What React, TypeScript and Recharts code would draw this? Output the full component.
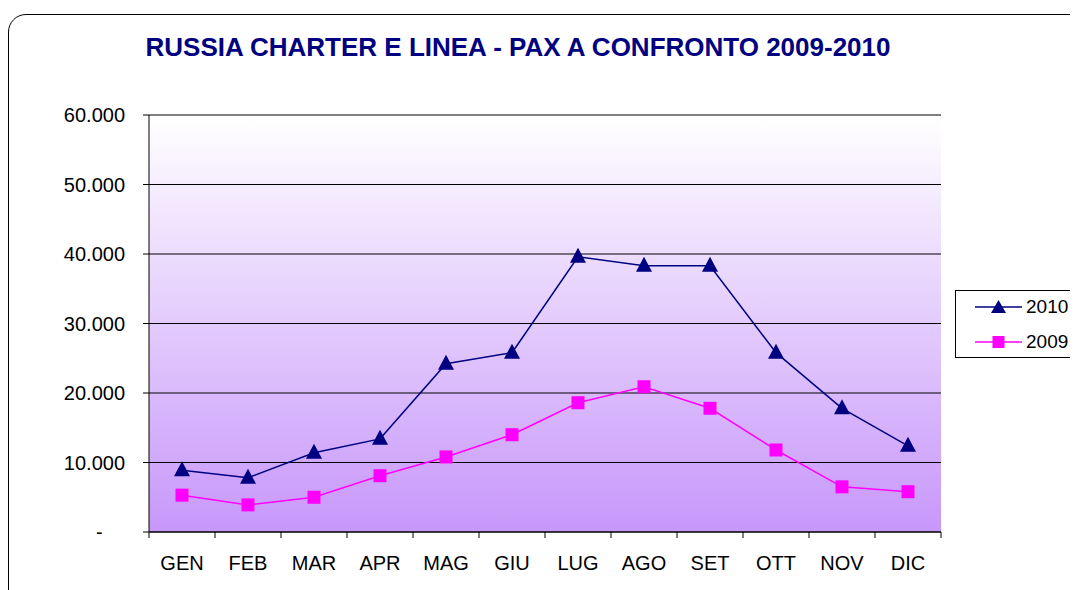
import { LineChart, Line, XAxis, YAxis, CartesianGrid } from 'recharts'

const months = ['GEN', 'FEB', 'MAR', 'APR', 'MAG', 'GIU', 'LUG', 'AGO', 'SET', 'OTT', 'NOV', 'DIC']
const pax2010 = [8900, 7800, 11400, 13400, 24200, 25800, 39600, 38300, 38300, 25800, 17800, 12400]
const pax2009 = [5300, 3900, 5000, 8100, 10800, 14000, 18600, 20900, 17800, 11800, 6500, 5800]
const yTicks = [0, 10000, 20000, 30000, 40000, 50000, 60000]

const NAVY = '#000080'
const MAGENTA = '#ff00ff'
const FONT = '"Liberation Sans", Arial, sans-serif'

const data = months.map((m, i) => ({ m, y2010: pax2010[i], y2009: pax2009[i] }))

const fmtY = (v: number) => (v === 0 ? '-\u00A0\u00A0\u00A0\u00A0' : `${v / 1000}.000`)

const Triangle = (props: any) => {
  const { cx, cy } = props
  if (cx == null || cy == null) return null
  return <path d={`M${cx},${cy - 9} L${cx + 8},${cy + 6} L${cx - 8},${cy + 6} Z`} fill={NAVY} />
}

const Square = (props: any) => {
  const { cx, cy } = props
  if (cx == null || cy == null) return null
  return <rect x={cx - 6.5} y={cy - 6.5} width={13} height={13} fill={MAGENTA} />
}

// month label centred, tick marks on band boundaries like excel
const MonthTick = (props: any) => {
  const { x, y, payload, index } = props
  const half = payload?.offset || 33
  return (
    <g>
      <line x1={x - half} x2={x - half} y1={y - 8} y2={y - 2} stroke="#000" />
      {index === months.length - 1 && (
        <line x1={x + half} x2={x + half} y1={y - 8} y2={y - 2} stroke="#000" />
      )}
      <text x={x} y={y + 30} textAnchor="middle" fontSize={20} fontFamily={FONT} fill="#000">
        {payload.value}
      </text>
    </g>
  )
}

const series = [
  { name: '2010', color: NAVY, marker: 'tri' },
  { name: '2009', color: MAGENTA, marker: 'sq' },
]

export default function App() {
  return (
    <div
      style={{
        position: 'relative',
        width: 1078,
        height: 590,
        margin: '-8px 0 0 -8px',
        overflow: 'hidden',
        background: '#fff',
        fontFamily: FONT,
      }}
    >
      {/* outer rounded frame */}
      <div
        style={{
          position: 'absolute',
          left: 8,
          top: 14,
          width: 1100,
          height: 620,
          border: '1.5px solid #000',
          borderRadius: 18,
          boxSizing: 'border-box',
        }}
      />
      <div
        style={{
          position: 'absolute',
          left: 0,
          width: 1036,
          top: 32,
          textAlign: 'center',
          fontWeight: 'bold',
          fontSize: 26,
          lineHeight: '30px',
          color: NAVY,
        }}
      >
        RUSSIA CHARTER E LINEA - PAX A CONFRONTO 2009-2010
      </div>
      <div style={{ position: 'absolute', left: 0, top: 0 }}>
        <LineChart width={1078} height={590} data={data} margin={{ top: 115, right: 137, bottom: 28, left: 0 }}>
          <defs>
            <linearGradient id="bg" x1="0" y1="0" x2="0" y2="1">
              <stop offset="0%" stopColor="#ffffff" />
              <stop offset="100%" stopColor="#c797fa" />
            </linearGradient>
          </defs>
          <CartesianGrid vertical={false} stroke="#000" fill="url(#bg)" fillOpacity={1} />
          <XAxis
            dataKey="m"
            scale="band"
            height={30}
            axisLine={{ stroke: '#000' }}
            tickLine={false}
            tick={<MonthTick />}
            interval={0}
          />
          <XAxis xAxisId="top" dataKey="m" scale="band" orientation="top" height={0} tick={false} tickLine={false} axisLine={{ stroke: '#808080' }} />
          <YAxis
            width={149}
            domain={[0, 60000]}
            ticks={yTicks}
            tickFormatter={fmtY}
            tickSize={6}
            tickMargin={18}
            axisLine={{ stroke: '#000' }}
            tickLine={{ stroke: '#000' }}
            tick={{ fill: '#000', fontSize: 20, fontFamily: FONT }}
          />
          <YAxis yAxisId="r" orientation="right" width={0} domain={[0, 60000]} tick={false} tickLine={false} axisLine={{ stroke: '#808080' }} />
          <Line
            type="linear"
            dataKey="y2010"
            name="2010"
            stroke={NAVY}
            strokeWidth={1.5}
            dot={<Triangle />}
            activeDot={false}
            isAnimationActive={false}
          />
          <Line
            type="linear"
            dataKey="y2009"
            name="2009"
            stroke={MAGENTA}
            strokeWidth={1.5}
            dot={<Square />}
            activeDot={false}
            isAnimationActive={false}
          />
        </LineChart>
      </div>
      {/* legend */}
      <div
        style={{
          position: 'absolute',
          left: 955,
          top: 290,
          width: 123,
          height: 68,
          border: '1px solid #000',
          boxSizing: 'border-box',
          background: '#fff',
        }}
      >
        {series.map((s, i) => (
          <div key={s.name} style={{ position: 'absolute', left: 19, top: 5 + i * 35, height: 22, display: 'flex', alignItems: 'center' }}>
            <svg width={48} height={20}>
              <line x1={0} x2={47} y1={10} y2={10} stroke={s.color} strokeWidth={1.5} />
              {s.marker === 'tri' ? (
                <path d="M23.5,3 L31,16 L16,16 Z" fill={s.color} />
              ) : (
                <rect x={17.5} y={4} width={12} height={12} fill={s.color} />
              )}
            </svg>
            <span style={{ fontSize: 19, marginLeft: 3, color: '#000', whiteSpace: 'nowrap' }}>{s.name}</span>
          </div>
        ))}
      </div>
    </div>
  )
}
